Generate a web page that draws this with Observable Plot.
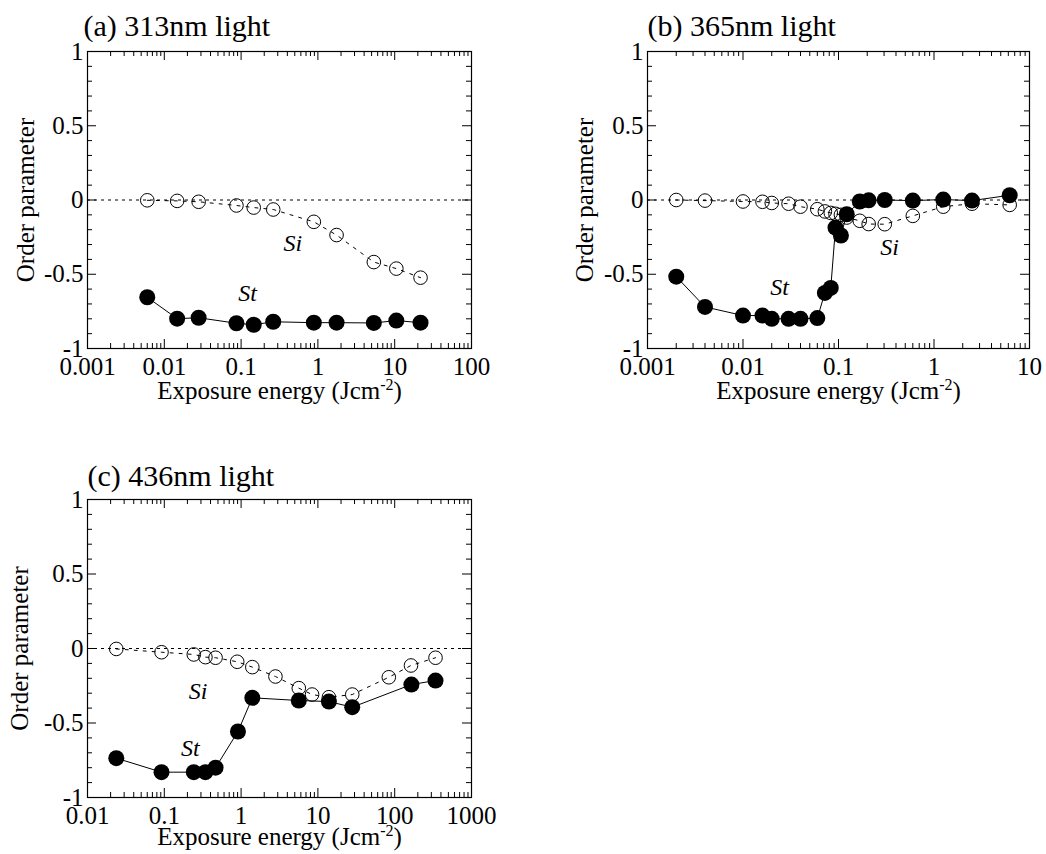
<!DOCTYPE html>
<html>
<head>
<meta charset="utf-8">
<script src="https://cdn.jsdelivr.net/npm/d3@7"></script>
<script src="https://cdn.jsdelivr.net/npm/@observablehq/plot@0.6"></script>
<style>
  html, body { margin: 0; padding: 0; background: #fff; }
  #root { position: relative; width: 1046px; height: 854px; overflow: hidden; background: #fff; }
  #root svg { position: absolute; }
  #root svg, #root svg text, #root svg tspan { font-family: "Liberation Serif", "Times New Roman", Times, serif !important; }
</style>
</head>
<body>
<div id="root"></div>
<script>
// ---------- data ----------
const titles = ["(a) 313nm light", "(b) 365nm light", "(c) 436nm light"];
const yLabel = "Order parameter";
const xLabelParts = ["Exposure energy (Jcm", "-2", ")"];
const seriesNames = ["Si", "St"];

const yTicks = [-1, -0.5, 0, 0.5, 1];
const yTickLabels = ["-1", "-0.5", "0", "0.5", "1"];
const yMinorTicks = [-0.9, -0.8, -0.7, -0.6, -0.4, -0.3, -0.2, -0.1, 0.1, 0.2, 0.3, 0.4, 0.6, 0.7, 0.8, 0.9];

const aTicks = [0.001, 0.01, 0.1, 1, 10, 100];
const aTickLabels = ["0.001", "0.01", "0.1", "1", "10", "100"];
const bTicks = [0.001, 0.01, 0.1, 1, 10];
const bTickLabels = ["0.001", "0.01", "0.1", "1", "10"];
const cTicks = [0.01, 0.1, 1, 10, 100, 1000];
const cTickLabels = ["0.01", "0.1", "1", "10", "100", "1000"];

// (a) 313 nm
const aX  = [0.006, 0.0147, 0.028, 0.087, 0.146, 0.262, 0.885, 1.75, 5.35, 10.5, 21.7];
const aSi = [-0.002, -0.006, -0.012, -0.037, -0.051, -0.064, -0.147, -0.236, -0.418, -0.462, -0.523];
const aSt = [-0.655, -0.799, -0.793, -0.83, -0.84, -0.82, -0.826, -0.826, -0.828, -0.812, -0.826];

// (b) 365 nm
const bX  = [0.002, 0.004, 0.01, 0.016, 0.02, 0.03, 0.04, 0.06, 0.072, 0.083, 0.093, 0.106, 0.122, 0.167, 0.207, 0.305, 0.6, 1.25, 2.5, 6.2];
const bSi = [0, -0.004, -0.01, -0.012, -0.02, -0.025, -0.045, -0.062, -0.077, -0.087, -0.093, -0.1, -0.118, -0.14, -0.162, -0.163, -0.107, -0.045, -0.025, -0.033];
const bSt = [-0.516, -0.72, -0.778, -0.778, -0.8, -0.8, -0.8, -0.795, -0.626, -0.592, -0.186, -0.239, -0.096, -0.01, -0.002, 0, -0.004, 0.003, -0.004, 0.032];

// (c) 436 nm
const cSiX = [0.0237, 0.092, 0.242, 0.343, 0.465, 0.89, 1.4, 2.8, 5.64, 8.4, 13.9, 28, 83.8, 163, 340];
const cSi  = [-0.003, -0.025, -0.04, -0.058, -0.062, -0.089, -0.125, -0.188, -0.266, -0.309, -0.327, -0.309, -0.193, -0.114, -0.062];
const cStX = [0.0237, 0.092, 0.242, 0.343, 0.465, 0.91, 1.4, 5.64, 13.9, 28, 165, 340];
const cSt  = [-0.736, -0.83, -0.83, -0.83, -0.8, -0.557, -0.331, -0.349, -0.356, -0.394, -0.242, -0.215];

// label positions (data units)
const aNoteX = [0.47, 0.121],  aNoteY = [-0.29, -0.626];
const bNoteX = [0.342, 0.0241], bNoteY = [-0.317, -0.586];
const cNoteX = [0.275, 0.219], cNoteY = [-0.289, -0.668];

// ---------- drawing ----------
const FONT = "Liberation Serif, Times New Roman, Times, serif";
const toPts = (xs, ys) => xs.map((x, i) => ({x, y: ys[i]}));
const toNotes = (xs, ys) => xs.map((x, i) => ({x, y: ys[i], text: seriesNames[i]}));

function panel(cfg) {
  const {left, top, width, height, mt, ml, mr, mb, xTicks, xTickLabels,
         si, st, notes, title, titleDx, titleDy, yLabelDx, xLabelDy, xTickPad} = cfg;
  const fw = width - ml - mr, fh = height - mt - mb;
  const xMinor = xTicks.slice(0, -1).flatMap(d => [2, 3, 4, 5, 6, 7, 8, 9].map(k => k * d));
  const fmtX = d => { const i = xTicks.findIndex(t => Math.abs(t - d) / t < 1e-9); return i >= 0 ? xTickLabels[i] : ""; };
  const fmtY = d => { const i = yTicks.findIndex(t => Math.abs(t - d) < 1e-9); return i >= 0 ? yTickLabels[i] : ""; };
  const xLabelText = xLabelParts.join("");
  const tk = {stroke: "#000", strokeWidth: 1};

  const svg = Plot.plot({
    width, height,
    marginTop: mt, marginLeft: ml, marginRight: mr, marginBottom: mb,
    style: {fontFamily: FONT, fontSize: "25px", color: "#000", background: "transparent", overflow: "visible"},
    x: {type: "log", domain: [xTicks[0], xTicks[xTicks.length - 1]]},
    y: {domain: [-1, 1]},
    marks: [
      Plot.ruleY([0], {stroke: "#000", strokeWidth: 1, strokeDasharray: "3,4"}),
      Plot.line(st, {x: "x", y: "y", stroke: "#000", strokeWidth: 1}),
      Plot.line(si, {x: "x", y: "y", stroke: "#000", strokeWidth: 1, strokeDasharray: "3,6"}),
      Plot.dot(st, {x: "x", y: "y", r: 8, fill: "#000", stroke: "none"}),
      Plot.dot(si, {x: "x", y: "y", r: 6.8, fill: "none", stroke: "#000", strokeWidth: 1}),
      Plot.text(notes, {x: "x", y: "y", text: "text", fontStyle: "italic", fontSize: 24, fontFamily: FONT, fill: "#000"}),
      // inward ticks (bottom, top, left, right)
      Plot.ruleX(xTicks, {x: d => d, insetTop: fh - 9, ...tk}),
      Plot.ruleX(xMinor, {x: d => d, insetTop: fh - 5, ...tk}),
      Plot.ruleX(xTicks, {x: d => d, insetBottom: fh - 9, ...tk}),
      Plot.ruleX(xMinor, {x: d => d, insetBottom: fh - 5, ...tk}),
      Plot.ruleY(yTicks, {y: d => d, insetRight: fw - 9, ...tk}),
      Plot.ruleY(yMinorTicks, {y: d => d, insetRight: fw - 5, ...tk}),
      Plot.ruleY(yTicks, {y: d => d, insetLeft: fw - 9, ...tk}),
      Plot.ruleY(yMinorTicks, {y: d => d, insetLeft: fw - 5, ...tk}),
      // tick labels
      Plot.axisX(xTicks, {anchor: "bottom", tickSize: 0, tickPadding: xTickPad, tickFormat: fmtX, fontSize: 25, fontFamily: FONT, label: null}),
      Plot.axisY(yTicks, {anchor: "left", tickSize: 0, tickPadding: 4, tickFormat: fmtY, fontSize: 25, fontFamily: FONT, label: null}),
      Plot.frame({stroke: "#000", strokeWidth: 1.2}),
      // titles / axis labels
      Plot.text([title], {text: d => d, frameAnchor: "top-left", textAnchor: "start", lineAnchor: "bottom", dx: titleDx, dy: titleDy, fontSize: 30, fontFamily: FONT, fill: "#000"}),
      Plot.text([yLabel], {text: d => d, frameAnchor: "left", textAnchor: "middle", lineAnchor: "middle", rotate: -90, dx: yLabelDx, fontSize: 25, fontFamily: FONT, fill: "#000"}),
      Plot.text([xLabelText], {text: d => d, frameAnchor: "bottom", textAnchor: "middle", lineAnchor: "bottom", dy: xLabelDy, fontSize: 25, fontFamily: FONT, fill: "#000"})
    ]
  });

  // superscript in the x label
  d3.select(svg).selectAll("text")
    .filter(function () { return this.textContent === xLabelText; })
    .each(function () {
      const t = d3.select(this);
      t.text(null);
      t.append("tspan").text(xLabelParts[0]);
      t.append("tspan").attr("dy", -9).attr("font-size", 16).text(xLabelParts[1]);
      t.append("tspan").attr("dy", 9).text(xLabelParts[2]);
    });

  svg.style.left = left + "px";
  svg.style.top = top + "px";
  document.getElementById("root").appendChild(svg);
}

panel({left: 0, top: 0, width: 523, height: 408, mt: 51, ml: 87, mr: 52, mb: 60,
  xTicks: aTicks, xTickLabels: aTickLabels, xTickPad: 9,
  si: toPts(aX, aSi), st: toPts(aX, aSt), notes: toNotes(aNoteX, aNoteY),
  title: titles[0], titleDx: -4, titleDy: -16, yLabelDx: -62, xLabelDy: 50});

panel({left: 560, top: 0, width: 486, height: 408, mt: 51, ml: 87, mr: 17, mb: 60,
  xTicks: bTicks, xTickLabels: bTickLabels, xTickPad: 9,
  si: toPts(bX, bSi), st: toPts(bX, bSt), notes: toNotes(bNoteX, bNoteY),
  title: titles[1], titleDx: 0, titleDy: -16, yLabelDx: -63, xLabelDy: 50});

panel({left: 0, top: 448, width: 523, height: 406, mt: 51, ml: 87, mr: 52, mb: 57,
  xTicks: cTicks, xTickLabels: cTickLabels, xTickPad: 9,
  si: toPts(cSiX, cSi), st: toPts(cStX, cSt), notes: toNotes(cNoteX, cNoteY),
  title: titles[2], titleDx: 0, titleDy: -14, yLabelDx: -68, xLabelDy: 47});
</script>
</body>
</html>
